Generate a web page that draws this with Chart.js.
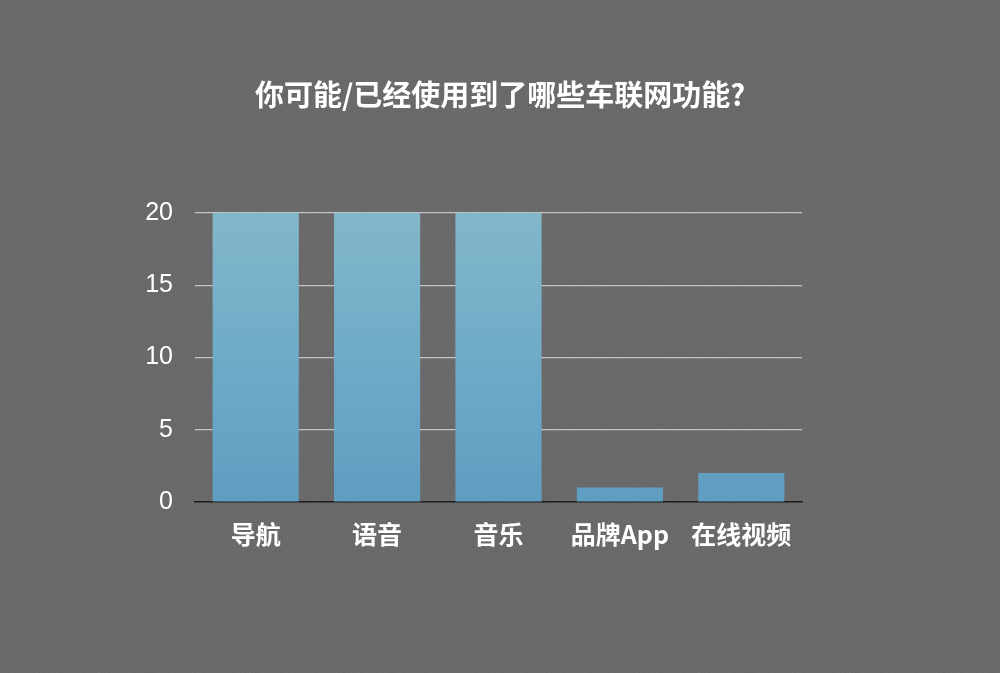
<!DOCTYPE html>
<html><head><meta charset="utf-8">
<script src="https://cdn.jsdelivr.net/npm/chart.js@4"></script>
<style>
html,body{margin:0;padding:0;background-color:#646464;}
body{background-image:url("data:image/svg+xml;utf8,<svg xmlns='http://www.w3.org/2000/svg' width='300' height='300'><filter id='n'><feTurbulence type='fractalNoise' baseFrequency='0.9' numOctaves='2' stitchTiles='stitch'/><feColorMatrix type='saturate' values='0'/></filter><rect width='300' height='300' filter='url(%23n)' opacity='0.12'/></svg>");}
#wrap{width:1000px;height:673px;position:relative;}
</style>
</head><body>
<div id="wrap"><canvas id="c"></canvas></div>
<script>
const titleText = '你可能/已经使用到了哪些车联网功能?';
const categories = ['导航', '语音', '音乐', '品牌App', '在线视频'];
const values = [20, 20, 20, 1, 2];
const yMin = 0, yMax = 20, yStep = 5;

const cjk = '"Noto Sans CJK SC", "Liberation Sans", sans-serif';

function barFill(ctx) {
  const chart = ctx.chart;
  const a = chart.chartArea;
  if (!a) return '#6eaac8';
  const g = chart.ctx.createLinearGradient(0, a.top, 0, a.bottom);
  g.addColorStop(0, '#82b7c9');
  g.addColorStop(0.3, '#76b0c9');
  g.addColorStop(0.65, '#6aa7c6');
  g.addColorStop(1, '#5f9dc1');
  return g;
}

new Chart(document.getElementById('c'), {
  type: 'bar',
  data: {
    labels: categories,
    datasets: [{
      data: values,
      backgroundColor: barFill,
      borderWidth: 0,
      barPercentage: 0.71,
      categoryPercentage: 1.0
    }]
  },
  options: {
    responsive: true,
    maintainAspectRatio: false,
    animation: false,
    layout: { padding: 0 },
    plugins: {
      legend: { display: false },
      tooltip: { enabled: false },
      title: {
        display: true,
        text: titleText,
        color: '#ffffff',
        font: { family: cjk, size: 29, weight: 'bold', lineHeight: 1.2 },
        padding: { top: 78, bottom: 100 }
      }
    },
    scales: {
      x: {
        grid: { display: false, drawTicks: false },
        border: { display: true, color: '#1c1c1c', width: 1.5 },
        ticks: {
          color: '#ffffff',
          font: { family: cjk, size: 25, weight: 'bold', lineHeight: 1.2 },
          padding: 17,
          maxRotation: 0,
          autoSkip: false
        },
        afterFit: s => { s.height = 171; }
      },
      y: {
        min: yMin, max: yMax,
        grid: {
          drawTicks: false,
          color: c => (c.tick && c.tick.value === 0) ? 'rgba(0,0,0,0)' : '#c4c4c4',
          lineWidth: 1.2
        },
        border: { display: false },
        ticks: {
          stepSize: yStep,
          color: '#ffffff',
          font: { family: '"Liberation Sans", Arial, sans-serif', size: 25 },
          padding: 22
        },
        afterFit: s => { s.width = 195; }
      },
      yRight: {
        position: 'right',
        min: yMin, max: yMax,
        grid: { display: false, drawTicks: false },
        border: { display: false },
        ticks: { display: false },
        afterFit: s => { s.width = 198; }
      }
    }
  }
});
</script>
</body></html>
